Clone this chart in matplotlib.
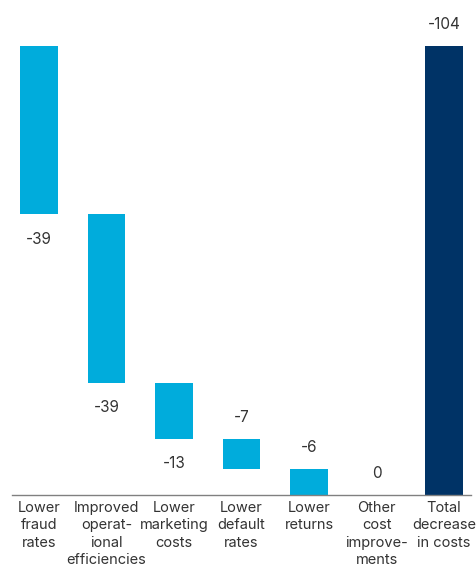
import matplotlib.pyplot as plt
import numpy as np

plt.rcParams['font.family'] = ['Inter', 'DejaVu Sans']

categories = ["Lower\nfraud\nrates", "Improved\noperat-\nional\nefficiencies",
              "Lower\nmarketing\ncosts", "Lower\ndefault\nrates", "Lower\nreturns",
              "Other\ncost\nimprove-\nments", "Total\ndecrease\nin costs"]
changes = [-39, -39, -13, -7, -6, 0]
total = -104

light = "#00acdc"
navy = "#003366"
txt = "#333333"

fig = plt.figure(figsize=(4.76, 5.70), dpi=100)
ax = fig.add_axes([0, 0, 1, 1])

# waterfall: bars hang down from the running total
mag = -np.array(changes, dtype=float)
tops = -total - np.concatenate([[0], np.cumsum(mag)[:-1]])
bottoms = tops - mag
x = np.arange(len(categories))

ax.bar(x[:-1], mag, bottom=bottoms, width=0.56, color=light)
ax.bar(x[-1], -total, bottom=0, width=0.56, color=navy)

# value labels: first three below bars, the rest above
for i, (v, t, b) in enumerate(zip(changes, tops, bottoms)):
    if i < 3:
        ax.text(x[i], b - 5.8, str(v), ha="center", va="center", fontsize=11, color=txt)
    else:
        ax.text(x[i], t + 5.0, str(v), ha="center", va="center", fontsize=11, color=txt)
ax.text(x[-1], -total + 5.0, str(total), ha="center", va="center", fontsize=11, color=txt)

ax.set_xlim(-0.578, 6.474)
ax.set_ylim(-17.37, 114.66)

for s in ["top", "right", "left"]:
    ax.spines[s].set_visible(False)
ax.spines["bottom"].set_position(("data", 0))
ax.spines["bottom"].set_bounds(-0.4, 6.4)
ax.spines["bottom"].set_color("#808080")
ax.spines["bottom"].set_linewidth(1.0)
ax.set_yticks([])
ax.set_xticks(x)
ax.set_xticklabels(categories, fontsize=10.5, color=txt, linespacing=1.32)
ax.tick_params(axis="x", length=0, pad=4)

fig.savefig("out.png", dpi=100)
